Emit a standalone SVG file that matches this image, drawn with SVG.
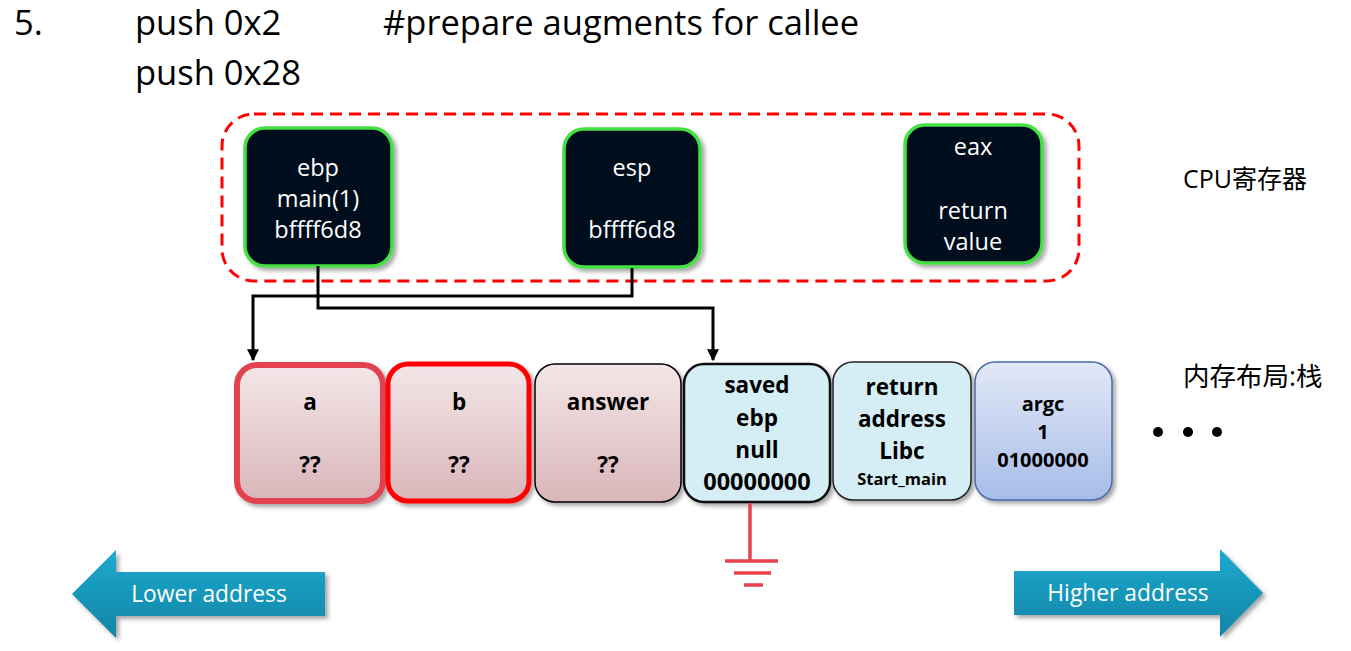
<svg xmlns="http://www.w3.org/2000/svg" width="1351" height="651" viewBox="0 0 1351 651">
<defs>
<linearGradient id="pink" x1="0" y1="0" x2="0" y2="1"><stop offset="0" stop-color="#f3e6e8"/><stop offset="1" stop-color="#d9b5b9"/></linearGradient>
<linearGradient id="blue" x1="0" y1="0" x2="0" y2="1"><stop offset="0" stop-color="#e2e9f7"/><stop offset="1" stop-color="#a7bce8"/></linearGradient>
<linearGradient id="teal" x1="0" y1="0" x2="0" y2="1"><stop offset="0" stop-color="#1eaace"/><stop offset="1" stop-color="#1184a6"/></linearGradient>
<filter id="sh" x="-20%" y="-20%" width="140%" height="140%"><feDropShadow dx="3" dy="3" stdDeviation="2" flood-color="#000" flood-opacity="0.35"/></filter>
<marker id="ah" viewBox="0 0 10 10" refX="9" refY="5" markerWidth="4" markerHeight="4" orient="auto"><path d="M0,0 L10,5 L0,10 z" fill="#000"/></marker>
</defs>
<style>
text{font-family:"Open Sans","Noto Sans","Noto Sans CJK SC",sans-serif}
.title{font-size:34.5px;fill:#000}
.reg rect{fill:#020f1a;stroke:#44e044;stroke-width:3.5}
.reg text{fill:#fff;font-size:23.5px;text-anchor:middle}
.mem text{font-size:22.5px;font-weight:bold;text-anchor:middle;fill:#000}
.lbl{font-size:25px;fill:#000}
.conn path{fill:none;stroke:#000;stroke-width:3}
.gnd line{stroke:#e8404c;stroke-width:3.5}
.arr text{fill:#fff;font-size:22.8px;text-anchor:middle}
</style>
<rect width="1351" height="651" fill="#fff"/>
<g id="title">
<text class="title" x="14" y="35">5.</text>
<text class="title" x="135" y="35">push 0x2</text>
<text class="title" x="135" y="85">push 0x28</text>
<text class="title" x="383" y="35">#prepare augments for callee</text>
</g>
<g id="cpu-group">
<rect x="222" y="114" width="857" height="167" rx="32" fill="none" stroke="#ff0000" stroke-width="3" stroke-dasharray="12 7"/>
</g>
<g id="ebp" class="reg">
<rect x="245" y="128" width="147" height="138" rx="20" filter="url(#sh)"/>
<text x="318" y="176">ebp</text>
<text x="318" y="207">main(1)</text>
<text x="318" y="238">bffff6d8</text>
</g>
<g id="esp" class="reg">
<rect x="564" y="129" width="136" height="138" rx="20" filter="url(#sh)"/>
<text x="632" y="176">esp</text>
<text x="632" y="238">bffff6d8</text>
</g>
<g id="eax" class="reg">
<rect x="905" y="125" width="137" height="138" rx="20" filter="url(#sh)"/>
<text x="973" y="155">eax</text>
<text x="973" y="219">return</text>
<text x="973" y="250">value</text>
</g>
<text class="lbl" x="1183" y="188">CPU寄存器</text>
<text class="lbl" x="1183" y="386" style="font-size:26.5px">内存布局:栈</text>
<g id="connectors" class="conn">
<path d="M318,266 V308 H713 V360" marker-end="url(#ah)"/>
<path d="M632,268 V296 H253 V360" marker-end="url(#ah)"/>
</g>
<g id="mem-a" class="mem">
<rect x="237" y="365" width="146" height="136" rx="20" fill="url(#pink)" stroke="#e2434f" stroke-width="6" filter="url(#sh)"/>
<text x="310" y="410">a</text>
<text x="310" y="473">??</text>
</g>
<g id="mem-b" class="mem">
<rect x="388" y="364" width="141" height="137" rx="20" fill="url(#pink)" stroke="#ff0000" stroke-width="5" filter="url(#sh)"/>
<text x="459" y="410">b</text>
<text x="459" y="473">??</text>
</g>
<g id="mem-answer" class="mem">
<rect x="535" y="364" width="146" height="138" rx="20" fill="url(#pink)" stroke="#000" stroke-width="1.5" filter="url(#sh)"/>
<text x="608" y="410">answer</text>
<text x="608" y="473">??</text>
</g>
<g id="mem-savedebp" class="mem">
<rect x="684" y="364" width="146" height="138" rx="20" fill="#d5eef5" stroke="#111" stroke-width="2.5" filter="url(#sh)"/>
<text x="757" y="393">saved</text>
<text x="757" y="426">ebp</text>
<text x="757" y="458">null</text>
<text x="757" y="490" style="font-size:23.5px">00000000</text>
</g>
<g id="mem-ret" class="mem">
<rect x="833" y="362" width="138" height="138" rx="20" fill="#d5eef5" stroke="#222" stroke-width="1.5" filter="url(#sh)"/>
<text x="902" y="395">return</text>
<text x="902" y="427">address</text>
<text x="902" y="459">Libc</text>
<text x="902" y="485" style="font-size:16.5px">Start_main</text>
</g>
<g id="mem-argc" class="mem">
<rect x="975" y="362" width="137" height="138" rx="20" fill="url(#blue)" stroke="#4a6aa8" stroke-width="1.5" filter="url(#sh)"/>
<text x="1043" y="411" style="font-size:20px">argc</text>
<text x="1043" y="439" style="font-size:20px">1</text>
<text x="1043" y="467" style="font-size:20px">01000000</text>
</g>
<g id="dots" fill="#000">
<circle cx="1158" cy="432" r="5"/>
<circle cx="1188" cy="432" r="5"/>
<circle cx="1217" cy="432" r="5"/>
</g>
<g id="ground" class="gnd">
<line x1="750" y1="503" x2="750" y2="561"/>
<line x1="725" y1="561" x2="778" y2="561"/>
<line x1="734" y1="573" x2="771" y2="573"/>
<line x1="744" y1="585" x2="763" y2="585"/>
</g>
<g id="lower" class="arr">
<path d="M72,594 L116,550 V572 H325 V616 H116 V638 Z" fill="url(#teal)" filter="url(#sh)"/>
<text x="209" y="602">Lower address</text>
</g>
<g id="higher" class="arr">
<path d="M1014,571 H1220 V549 L1263,593 L1220,637 V615 H1014 Z" fill="url(#teal)" filter="url(#sh)"/>
<text x="1128" y="601">Higher address</text>
</g>
</svg>
